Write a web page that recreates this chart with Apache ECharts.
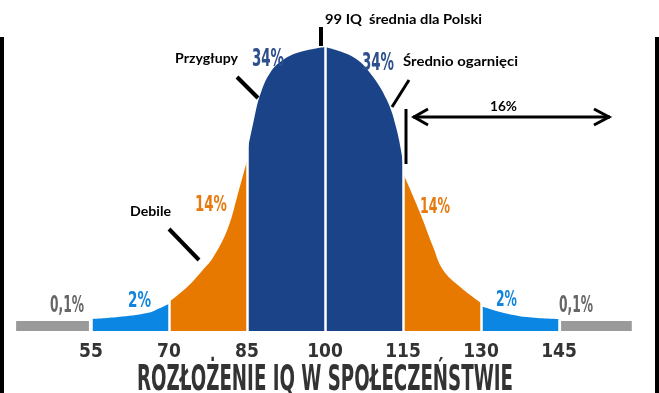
<!DOCTYPE html>
<html><head><meta charset="utf-8">
<script src="https://cdn.jsdelivr.net/npm/echarts@6/dist/echarts.min.js"></script>
<style>html,body{margin:0;padding:0;background:#fff}#c{width:659px;height:393px}</style>
</head><body><div id="c"></div>
<script>
// IQ value, relative height (peak = 100)
const grayLeft    = [[40.6,3.5],[54.6,3.5]];
const blueLeft    = [[55,4.2],[60.2,4.9],[65.8,6.3],[68.3,8.1],[70,9.6]];
const orangeLeft  = [[70,10.2],[73.5,15.5],[76.5,21.5],[78.5,26],[81.2,35.6],[83.1,47.2],[85,60]];
const navyLeft    = [[85,62.7],[86.2,73.2],[87.5,83],[89.4,90.8],[91.9,95.4],[95.2,98.2],[100,100]];
const navyRight   = [[100,100],[105.4,96.5],[108.7,90.8],[111.9,81.3],[113.8,70.8],[115,59.5]];
const orangeRight = [[115,55.6],[118.3,41.5],[120.8,29.6],[122.7,21.5],[126,15.5],[130,9.9]];
const blueRight   = [[130,8.8],[133.7,6.7],[138.8,4.9],[145,4.2]];
const grayRight   = [[145.4,3.5],[159,3.5]];
const boundaries  = [55,70,85,100,115,130,145];
const xMin = 40, xMax = 160, xStep = 15;

const C = {gray:'#9a9a9a', blue:'#0b86e2', orange:'#e87900', navy:'#1b4488'};
const COND = "'Liberation Sans Narrow','DejaVu Sans Condensed',sans-serif";
const CAL = "Lato,'Open Sans',sans-serif";

const cv = document.createElement('canvas').getContext('2d');
function txt(s, x, y, w, size, color, family, weight){
  const f = (weight||'bold') + ' ' + size + 'px ' + family;
  cv.font = f;
  const mw = cv.measureText(s).width;
  return {type:'text', x:x, y:y, z:100, scaleX: w/mw,
    style:{text:s, fill:color, font:f, textAlign:'left', textVerticalAlign:'middle'}};
}
function ln(x1,y1,x2,y2,w){
  return {type:'line', z:100, shape:{x1,y1,x2,y2}, style:{stroke:'#000', lineWidth:w||4}};
}
function area(data, color){
  return {type:'line', data:data, smooth:0.4, showSymbol:false, silent:true, z:2,
    lineStyle:{width:0}, areaStyle:{color:color, opacity:1}, itemStyle:{color:color}};
}

const chart = echarts.init(document.getElementById('c'));
chart.setOption({
  animation:false,
  backgroundColor:'#fff',
  grid:{left:13, right:22, top:47, bottom:62},
  xAxis:{type:'value', min:xMin, max:xMax, interval:xStep,
    axisLine:{show:false}, axisTick:{show:false}, splitLine:{show:false},
    axisLabel:{showMinLabel:false, showMaxLabel:false, margin:12,
      color:'#333', fontSize:19, fontWeight:'bold', fontFamily:COND}},
  yAxis:{type:'value', min:0, max:100, show:false, splitLine:{show:false}},
  series:[
    area(grayLeft, C.gray), area(blueLeft, C.blue), area(orangeLeft, C.orange),
    area(navyLeft, C.navy), area(navyRight, C.navy), area(orangeRight, C.orange),
    area(blueRight, C.blue), area(grayRight, C.gray),
    {type:'line', data:[], z:3, silent:true,
      markLine:{silent:true, symbol:'none', label:{show:false},
        lineStyle:{color:'#fff', width:2.5, type:'solid'},
        data: boundaries.map(b => ({xAxis:b}))}}
  ],
  graphic:[
    {type:'rect', z:100, shape:{x:0,y:37,width:4,height:356}, style:{fill:'#000'}},
    {type:'rect', z:100, shape:{x:655,y:37,width:4,height:356}, style:{fill:'#000'}},
    txt('0,1%', 50, 306.5, 34, 23, '#666', COND),
    txt('2%', 128, 301, 23, 22, '#1185dd', COND),
    txt('14%', 195, 205, 32, 22, '#e8790c', COND),
    txt('34%', 252, 59.5, 32, 25, '#2d4f8c', COND),
    txt('34%', 362, 63.5, 32, 25, '#2d4f8c', COND),
    txt('14%', 420, 207.5, 30, 22, '#e8790c', COND),
    txt('2%', 496, 300, 21, 22, '#1185dd', COND),
    txt('0,1%', 559, 306, 34, 23, '#666', COND),
    txt('ROZŁOŻENIE IQ W SPOŁECZEŃSTWIE', 137, 381, 376, 36, '#333', COND),
    txt('99 IQ  średnia dla Polski', 325, 19.5, 157, 14, '#000', CAL),
    txt('Przygłupy', 175, 58.5, 63, 13, '#000', CAL),
    txt('Średnio ogarnięci', 403, 62, 115, 13, '#000', CAL),
    txt('16%', 490, 106.5, 27, 13, '#000', CAL),
    txt('Debile', 130, 212, 41, 13, '#000', CAL),
    ln(321,27,321,46,4),
    ln(237,77,258,98,4),
    ln(409,80,392,107,3),
    ln(406,109,406,164,3),
    ln(413,117,610,117,3),
    {type:'polyline', z:100, shape:{points:[[428,109],[414,117],[428,125]]}, style:{stroke:'#000', lineWidth:3, fill:null}},
    {type:'polyline', z:100, shape:{points:[[594,109],[609,117],[594,125]]}, style:{stroke:'#000', lineWidth:3, fill:null}},
    ln(169,229,199,260,4)
  ]
});
</script></body></html>
